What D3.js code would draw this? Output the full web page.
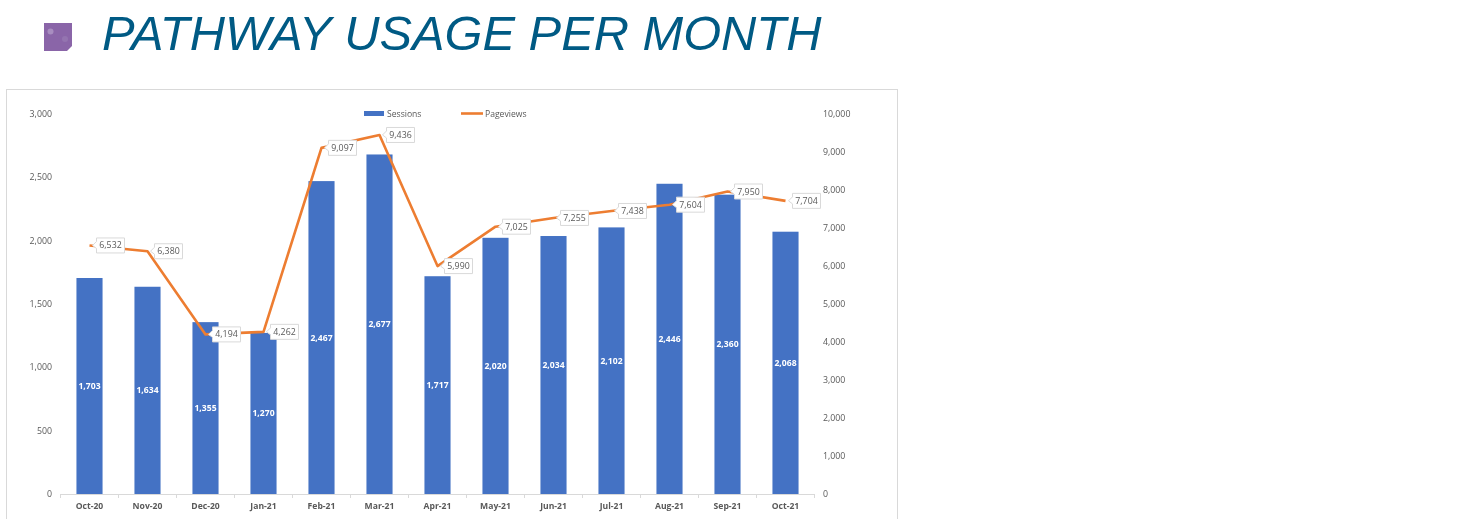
<!DOCTYPE html>
<html><head><meta charset="utf-8">
<script src="https://cdn.jsdelivr.net/npm/d3@7/dist/d3.min.js"></script>
<style>html,body{margin:0;padding:0;background:#fff;overflow:hidden}svg{display:block}
text{font-family:"Open Sans","Noto Sans",sans-serif}</style></head>
<body><svg id="c" width="1462" height="519"></svg>
<script>
const months=["Oct-20","Nov-20","Dec-20","Jan-21","Feb-21","Mar-21","Apr-21","May-21","Jun-21","Jul-21","Aug-21","Sep-21","Oct-21"];
const sessions=[1703,1634,1355,1270,2467,2677,1717,2020,2034,2102,2446,2360,2068];
const pageviews=[6532,6380,4194,4262,9097,9436,5990,7025,7255,7438,7604,7950,7704];
const leftTicks=[0,500,1000,1500,2000,2500,3000];
const rightTicks=[0,1000,2000,3000,4000,5000,6000,7000,8000,9000,10000];
const titleText="PATHWAY USAGE PER MONTH";
const seriesNames=["Sessions","Pageviews"];

const svg=d3.select("#c"), fmt=d3.format(",");
const blue="#4472c4", orange="#ed7d31", grey="#595959", rule="#d9d9d9";

// title
const icon=svg.append("g").style("filter","blur(0.4px)");
icon.append("rect").attr("x",44).attr("y",23).attr("width",28).attr("height",28).attr("fill","#8a65a8");
icon.append("path").attr("d","M72 51L72 46L67 51Z").attr("fill","#fff");
icon.append("circle").attr("cx",50.5).attr("cy",31.5).attr("r",3).attr("fill","#a88dc0");
icon.append("circle").attr("cx",65).attr("cy",39).attr("r",3).attr("fill","#9474b0");
svg.append("text").attr("x",102).attr("y",50).text(titleText)
  .attr("fill","#005a84").style("font-family","'Liberation Sans',Arial,sans-serif")
  .style("font-style","italic").style("font-size","48.8px");

// frame
svg.append("rect").attr("x",6.5).attr("y",89.5).attr("width",891).attr("height",460)
  .attr("fill","#fff").attr("stroke",rule);

const chart=svg.append("g").style("filter","blur(0.35px)");
const x=d3.scaleBand().domain(months).range([60.5,814.5]).paddingInner(0.55).paddingOuter(0.275);
const yL=d3.scaleLinear().domain([0,3000]).range([494,113.5]);
const yR=d3.scaleLinear().domain([0,10000]).range([494,113.5]);
const cx=m=>x(m)+x.bandwidth()/2;

// axes
const gL=chart.append("g").attr("transform","translate(52,0)")
  .call(d3.axisLeft(yL).tickValues(leftTicks).tickSize(0).tickPadding(0).tickFormat(fmt));
const gR=chart.append("g").attr("transform","translate(823,0)")
  .call(d3.axisRight(yR).tickValues(rightTicks).tickSize(0).tickPadding(0).tickFormat(fmt));
const gB=chart.append("g").attr("transform","translate(0,494)")
  .call(d3.axisBottom(x).tickSize(0).tickPadding(9));
[gL,gR,gB].forEach(g=>{g.select(".domain").remove();
  g.selectAll("text").attr("fill",grey).style("font-size","8.8px").style("font-family","'Open Sans',sans-serif");});
gB.selectAll("text").style("font-weight","700").style("font-size","8.6px");
chart.append("line").attr("x1",x.range()[0]).attr("x2",x.range()[1]).attr("y1",494.5).attr("y2",494.5).attr("stroke",rule);
chart.append("g").selectAll("line").data(months.concat("end")).join("line")
  .attr("x1",(d,i)=>x.range()[0]+i*x.step()).attr("x2",(d,i)=>x.range()[0]+i*x.step())
  .attr("y1",494).attr("y2",498).attr("stroke",rule);

// bars
chart.append("g").selectAll("rect").data(months).join("rect")
  .attr("x",m=>x(m)).attr("width",x.bandwidth())
  .attr("y",(m,i)=>yL(sessions[i])).attr("height",(m,i)=>yL(0)-yL(sessions[i])).attr("fill",blue);
chart.append("g").selectAll("text").data(months).join("text")
  .attr("x",cx).attr("y",(m,i)=>(yL(sessions[i])+yL(0))/2+3)
  .attr("text-anchor","middle").attr("fill","#fff")
  .style("font-size","8.6px").style("font-weight","700")
  .text((m,i)=>fmt(sessions[i]));

// line
chart.append("path").datum(months)
  .attr("fill","none").attr("stroke",orange).attr("stroke-width",2.6).attr("stroke-linejoin","round")
  .attr("d",d3.line().x(cx).y((m,i)=>yR(pageviews[i])));

// callout labels
const bw=28,bh=15,gap=7;
const lab=chart.append("g").selectAll("g").data(months).join("g")
  .attr("transform",(m,i)=>`translate(${cx(m)},${yR(pageviews[i])})`);
lab.append("path")
  .attr("d",`M${gap} ${-bh/2}H${gap+bw}V${bh/2}H${gap}V3L3 0L${gap} -4Z`)
  .attr("fill","#fff").attr("stroke","#d9d9d9").attr("stroke-width",1);
lab.append("text").attr("x",gap+bw/2).attr("y",3).attr("text-anchor","middle")
  .attr("fill",grey).style("font-size","8.8px").text((m,i)=>fmt(pageviews[i]));

// legend
const lg=chart.append("g");
lg.append("rect").attr("x",364).attr("y",111).attr("width",20).attr("height",5).attr("fill",blue);
lg.append("text").attr("x",387).attr("y",117).attr("fill",grey).style("font-size","8.6px").text(seriesNames[0]);
lg.append("line").attr("x1",461).attr("x2",483).attr("y1",113.5).attr("y2",113.5).attr("stroke",orange).attr("stroke-width",2.6);
lg.append("text").attr("x",485).attr("y",117).attr("fill",grey).style("font-size","8.6px").text(seriesNames[1]);
</script></body></html>
